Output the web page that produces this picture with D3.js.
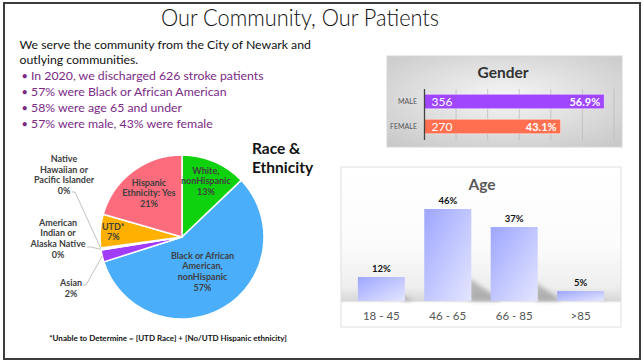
<!DOCTYPE html>
<html><head><meta charset="utf-8">
<script src="https://cdn.jsdelivr.net/npm/d3@7"></script>
<style>
html,body{margin:0;padding:0;background:#fff;}
svg{display:block;font-family:Lato,"Open Sans",sans-serif;}
</style></head>
<body>
<svg id="c" width="644" height="363"></svg>
<script>
// ---------- data ----------
const pageTitle = "Our Community, Our Patients";
const introLines = ["We serve the community from the City of Newark and", "outlying communities."];
const bullets = ["In 2020, we discharged 626 stroke patients", "57% were Black or African American", "58% were age 65 and under", "57% were male, 43% were female"];

const raceNames = ["White, nonHispanic", "Black or African American, nonHispanic", "Asian", "American Indian or Alaska Native", "Native Hawaiian or Pacific Islander", "UTD*", "Hispanic Ethnicity: Yes"];
const raceValues = [12.9, 57.4, 2.4, 0.2, 0.2, 6.6, 20.6];
const raceColors = ["#0fd20f", "#4aaefb", "#a23cfb", "#8a8a8a", "#8a8a8a", "#ffb000", "#fc6c7c"];
const raceFootnote = "*Unable to Determine  = [UTD Race] + [No/UTD Hispanic ethnicity]";

const genderCats = ["MALE", "FEMALE"];
const genderCounts = [356, 270];
const genderPct = [0.569, 0.431];
const genderColors = ["#a046ff", "#ff6f50"];
const genderTicks = [0, 0.1, 0.2, 0.3, 0.4, 0.5, 0.6];

const ageCats = ["18 - 45", "46 - 65", "66 - 85", ">85"];
const ageValues = [12, 46, 37, 5];

// ---------- setup ----------
const svg = d3.select("#c");
const defs = svg.append("defs");

// page frame
svg.append("rect").attr("x", 4).attr("y", 3).attr("width", 636).attr("height", 356)
  .attr("fill", "#fff").attr("stroke", "#3c3c3c").attr("stroke-width", 2);

// title
svg.append("text").attr("x", 300).attr("y", 26).attr("text-anchor", "middle")
  .attr("font-size", 23).attr("font-weight", 300).attr("fill", "#111")
  .attr("textLength", 278).attr("lengthAdjust", "spacingAndGlyphs").text(pageTitle);

// intro
introLines.forEach((t, i) => {
  svg.append("text").attr("x", 19.5).attr("y", 48.5 + i * 15).attr("font-size", 12.3).attr("fill", "#111")
    .text(t);
});
bullets.forEach((t, i) => {
  const y = 79.5 + i * 16.1;
  svg.append("text").attr("x", 21.5).attr("y", y).attr("font-size", 11).attr("fill", "#7b2a86").text("•");
  svg.append("text").attr("x", 31).attr("y", y).attr("font-size", 12.3).attr("fill", "#7b2a86").text(t);
});

// ---------- pie ----------
const cx = 182, cy = 237, R = 82;
const pie = d3.pie().sort(null).value(d => d)(raceValues);
const arc = d3.arc().innerRadius(0).outerRadius(R);
const gp = svg.append("g").attr("transform", `translate(${cx},${cy})`);
gp.selectAll("path").data(pie).join("path")
  .attr("d", arc).attr("fill", (d, i) => raceColors[i])
  .attr("stroke", "#fff").attr("stroke-width", 1.5).attr("stroke-linejoin", "round");

const pct = v => Math.round(v) + "%";
const total = d3.sum(raceValues);
// inside labels: [index, radial fraction, lines]
const inside = [
  [0, 0.74, ["White,", "nonHispanic"]],
  [6, 0.67, ["Hispanic", "Ethnicity: Yes"]],
  [5, 0.84, ["UTD*"]],
  [1, 0.49, ["Black or African", "American,", "nonHispanic"]]
];
inside.forEach(([i, f, lines]) => {
  const d = pie[i];
  const a = (d.startAngle + d.endAngle) / 2;
  const x = Math.sin(a) * R * f, y = -Math.cos(a) * R * f;
  const all = lines.concat([pct(raceValues[i] / total * 100)]);
  const t = gp.append("text").attr("text-anchor", "middle").attr("font-size", 9).attr("font-weight", 700).attr("fill", "#404040");
  all.forEach((l, k) => {
    t.append("tspan").attr("x", x).attr("y", y + (k - (all.length - 1) / 2) * 10.6 + 3.2).text(l);
  });
});
// outside labels with leader lines
const outside = [
  [4, 64, 159, ["Native", "Hawaiian or", "Pacific Islander"], [[72, 192], [75, 192]]],
  [3, 58, 222.5, ["American", "Indian or", "Alaska Native"], [[87, 247], [91, 247]]],
  [2, 71, 283, ["Asian"], [[83, 285], [86, 285]]]
];
outside.forEach(([i, x, y, lines, pts]) => {
  const d = pie[i];
  const a = (d.startAngle + d.endAngle) / 2;
  const ex = cx + Math.sin(a) * R, ey = cy - Math.cos(a) * R;
  svg.append("polyline").attr("points", pts.concat([[ex, ey]]).map(p => p.join(",")).join(" "))
    .attr("fill", "none").attr("stroke", "#b0b0b0").attr("stroke-width", 0.8);
  const all = lines.concat([pct(raceValues[i] / total * 100)]);
  const t = svg.append("text").attr("text-anchor", "middle").attr("font-size", 9).attr("font-weight", 700).attr("fill", "#404040");
  all.forEach((l, k) => t.append("tspan").attr("x", x).attr("y", y + k * 10.6 + 3.2).text(l));
});
svg.append("text").attr("x", 252).attr("y", 154).attr("font-size", 15.5).attr("font-weight", 700).attr("fill", "#111").text("Race &");
svg.append("text").attr("x", 252).attr("y", 173).attr("font-size", 15.5).attr("font-weight", 700).attr("fill", "#111").text("Ethnicity");
svg.append("text").attr("x", 168).attr("y", 340.5).attr("text-anchor", "middle").attr("font-size", 8).attr("font-weight", 700).attr("fill", "#111").text(raceFootnote);

// ---------- gender ----------
const gg = defs.append("radialGradient").attr("id", "gbg").attr("cx", "50%").attr("cy", "45%").attr("r", "70%");
gg.append("stop").attr("offset", "0%").attr("stop-color", "#f6f6f6");
gg.append("stop").attr("offset", "100%").attr("stop-color", "#c9c9c9");
svg.append("rect").attr("x", 387).attr("y", 56).attr("width", 235).attr("height", 91)
  .attr("fill", "url(#gbg)").attr("stroke", "#d6d6d6").attr("stroke-width", 1);
svg.append("text").attr("x", 503).attr("y", 78).attr("text-anchor", "middle").attr("font-size", 15.5).attr("font-weight", 700).attr("fill", "#333").text("Gender");
const gx = d3.scaleLinear().domain([0, 0.6]).range([424.5, 614]);
const gy = d3.scaleBand().domain(genderCats).range([89, 139]).paddingInner(0.42).paddingOuter(0.21);
svg.append("g").selectAll("line").data(genderTicks.slice(1)).join("line")
  .attr("x1", d => gx(d)).attr("x2", d => gx(d)).attr("y1", 89).attr("y2", 140)
  .attr("stroke", "#bdbdbd").attr("stroke-width", 0.8);
svg.append("g").selectAll("rect").data(genderCats).join("rect")
  .attr("x", gx(0)).attr("y", d => gy(d)).attr("width", (d, i) => gx(genderPct[i]) - gx(0))
  .attr("height", gy.bandwidth()).attr("fill", (d, i) => genderColors[i])
  .attr("stroke", "rgba(255,255,255,0.55)").attr("stroke-width", 0.8);
svg.append("line").attr("x1", gx(0)).attr("x2", gx(0)).attr("y1", 89).attr("y2", 140).attr("stroke", "#444").attr("stroke-width", 1.3);
genderCats.forEach((c, i) => {
  const yc = gy(c) + gy.bandwidth() / 2;
  svg.append("text").attr("x", 417).attr("y", yc + 2.5).attr("text-anchor", "end").attr("font-size", 7).attr("fill", "#555").text(c);
  svg.append("text").attr("x", gx(0) + 7).attr("y", yc + 4).attr("font-size", 12).attr("fill", "#fff").text(genderCounts[i]);
  svg.append("text").attr("x", gx(genderPct[i]) - 4).attr("y", yc + 4).attr("text-anchor", "end").attr("font-size", 11).attr("font-weight", 700).attr("fill", "#fff").text((genderPct[i] * 100).toFixed(1) + "%");
});

// ---------- age ----------
const ab = defs.append("linearGradient").attr("id", "abg").attr("x1", 0).attr("y1", 0).attr("x2", 0).attr("y2", 1);
[[0, "#ffffff"], [0.5, "#fbfbfb"], [0.75, "#eeeeee"], [0.835, "#d8d8d8"], [0.85, "#ffffff"], [1, "#ffffff"]]
  .forEach(([o, c]) => ab.append("stop").attr("offset", o).attr("stop-color", c));
svg.append("rect").attr("x", 341).attr("y", 167).attr("width", 280).attr("height", 160)
  .attr("fill", "url(#abg)").attr("stroke", "#e0e0e0").attr("stroke-width", 1);
svg.append("text").attr("x", 482).attr("y", 190).attr("text-anchor", "middle").attr("font-size", 15.5).attr("font-weight", 700).attr("fill", "#595959").text("Age");
const ax = d3.scaleBand().domain(ageCats).range([341, 621]).paddingInner(0.292).paddingOuter(0.254);
const ay = d3.scaleLinear().domain([0, 50]).range([301, 201]);
const barG = defs.append("linearGradient").attr("id", "barg").attr("x1", 0).attr("y1", 0).attr("x2", 1).attr("y2", 1);
barG.append("stop").attr("offset", "0%").attr("stop-color", "#9ea6ff");
barG.append("stop").attr("offset", "100%").attr("stop-color", "#e4e6ff");
const blur = defs.append("filter").attr("id", "blur").attr("x", "-50%").attr("y", "-50%").attr("width", "200%").attr("height", "200%");
blur.append("feGaussianBlur").attr("stdDeviation", 2);
svg.append("g").selectAll("polygon").data(ageValues).join("polygon")
  .attr("points", (d, i) => {
    const x1 = ax(ageCats[i]) + ax.bandwidth(), b = ay(0), h = b - ay(d);
    return [[x1 - 2, b], [x1 - 2, b - h * 0.25], [x1 + h * 0.33, b]].map(p => p.join(",")).join(" ");
  })
  .attr("fill", "#888").attr("opacity", 0.55).attr("filter", "url(#blur)");
svg.append("g").selectAll("rect").data(ageValues).join("rect")
  .attr("x", (d, i) => ax(ageCats[i])).attr("y", d => ay(d)).attr("width", ax.bandwidth())
  .attr("height", d => ay(0) - ay(d)).attr("fill", "url(#barg)");
svg.append("g").selectAll("text").data(ageValues).join("text")
  .attr("x", (d, i) => ax(ageCats[i]) + ax.bandwidth() / 2).attr("y", d => ay(d) - 5)
  .attr("text-anchor", "middle").attr("font-size", 9.5).attr("font-weight", 700).attr("fill", "#111").text(d => d + "%");
svg.append("g").selectAll("text").data(ageCats).join("text")
  .attr("x", d => ax(d) + ax.bandwidth() / 2).attr("y", 319.5)
  .attr("text-anchor", "middle").attr("font-size", 11.5).attr("fill", "#555").text(d => d);
</script>
</body></html>
